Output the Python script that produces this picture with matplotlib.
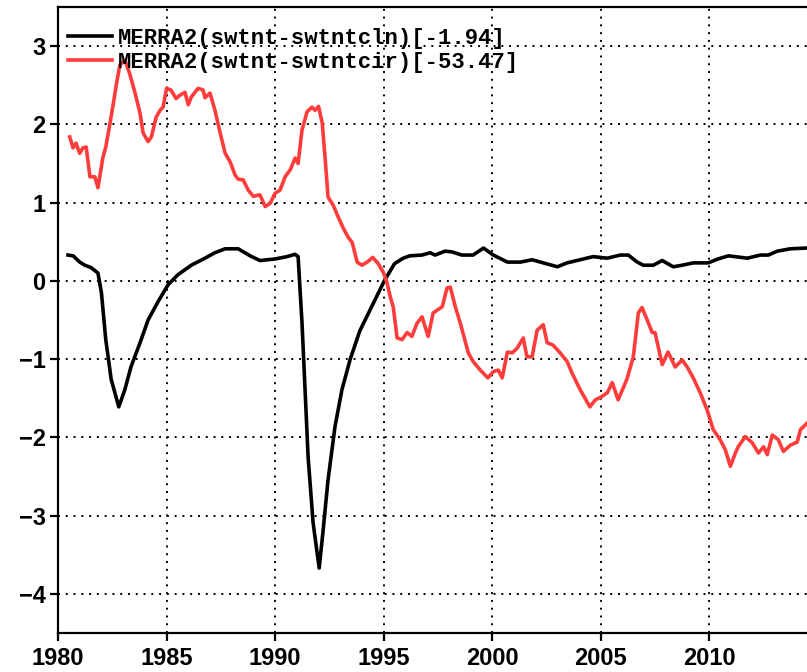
import matplotlib
matplotlib.use('Agg')
from matplotlib import pyplot as plt

# Series values (year, value)
black_years = [1980.46, 1980.7, 1981.0, 1981.24, 1981.52, 1981.84, 1982.0, 1982.2, 1982.45, 1982.8,
               1983.08, 1983.36, 1983.78, 1984.15, 1984.6, 1985.07, 1985.53, 1986.14, 1986.77, 1987.23,
               1987.7, 1988.3, 1988.85, 1989.3, 1990.0, 1990.55, 1990.92, 1991.06, 1991.24, 1991.38,
               1991.52, 1991.75, 1992.03, 1992.2, 1992.44, 1992.76, 1993.08, 1993.45, 1993.9, 1994.5,
               1995.03, 1995.5, 1995.9, 1996.2, 1996.77, 1997.14, 1997.37, 1997.83, 1998.15, 1998.6,
               1999.12, 1999.6, 2000.05, 2000.7, 2001.3, 2001.84, 2002.35, 2003.0, 2003.45, 2004.05,
               2004.65, 2005.3, 2005.9, 2006.27, 2006.68, 2006.96, 2007.42, 2007.83, 2008.34, 2008.75,
               2009.26, 2009.95, 2010.4, 2010.88, 2011.75, 2012.35, 2012.72, 2013.13, 2013.73, 2014.5]
black_vals = [0.33, 0.32, 0.24, 0.20, 0.17, 0.10, -0.15, -0.75, -1.26, -1.61,
              -1.39, -1.10, -0.79, -0.50, -0.27, -0.05, 0.08, 0.20, 0.29, 0.36,
              0.41, 0.41, 0.32, 0.26, 0.28, 0.31, 0.34, 0.31, -0.54, -1.39,
              -2.25, -3.09, -3.67, -3.22, -2.54, -1.86, -1.39, -1.01, -0.64, -0.30,
              0.0, 0.22, 0.29, 0.32, 0.33, 0.36, 0.33, 0.38, 0.37, 0.33,
              0.33, 0.42, 0.33, 0.24, 0.24, 0.27, 0.23, 0.18, 0.23, 0.27,
              0.31, 0.29, 0.33, 0.33, 0.24, 0.20, 0.20, 0.26, 0.18, 0.20,
              0.23, 0.23, 0.28, 0.32, 0.29, 0.33, 0.33, 0.38, 0.41, 0.42]

red_years = [1980.54, 1980.69, 1980.83, 1981.0, 1981.15, 1981.3, 1981.47, 1981.7, 1981.84, 1982.07,
             1982.2, 1982.4, 1982.55, 1982.7, 1982.85, 1983.08, 1983.3, 1983.55, 1983.78, 1983.92,
             1984.15, 1984.3, 1984.52, 1984.7, 1984.84, 1985.0, 1985.2, 1985.44, 1985.6, 1985.85,
             1986.0, 1986.14, 1986.45, 1986.68, 1986.77, 1987.0, 1987.23, 1987.47, 1987.7, 1987.93,
             1988.16, 1988.3, 1988.53, 1988.76, 1989.0, 1989.3, 1989.54, 1989.77, 1990.0, 1990.23,
             1990.46, 1990.7, 1990.92, 1991.06, 1991.24, 1991.47, 1991.7, 1991.84, 1992.0, 1992.17,
             1992.3, 1992.44, 1992.67, 1992.9, 1993.13, 1993.36, 1993.55, 1993.78, 1994.0, 1994.24,
             1994.5, 1994.75, 1995.0, 1995.16, 1995.3, 1995.44, 1995.62, 1995.85, 1996.08, 1996.3,
             1996.54, 1996.77, 1997.05, 1997.28, 1997.7, 1997.92, 1998.07, 1998.3, 1998.53, 1998.9,
             1999.12, 1999.45, 1999.8, 2000.05, 2000.28, 2000.46, 2000.7, 2000.92, 2001.15, 2001.43,
             2001.6, 2001.84, 2002.07, 2002.35, 2002.53, 2002.8, 2003.13, 2003.45, 2003.68, 2004.05,
             2004.5, 2004.75, 2004.98, 2005.3, 2005.53, 2005.8, 2006.2, 2006.5, 2006.73, 2006.9,
             2007.14, 2007.37, 2007.5, 2007.83, 2008.1, 2008.43, 2008.75, 2008.98, 2009.26, 2009.58,
             2009.9, 2010.18, 2010.5, 2010.74, 2010.97, 2011.2, 2011.33, 2011.66, 2011.98, 2012.26,
             2012.5, 2012.67, 2012.9, 2013.18, 2013.41, 2013.73, 2014.05, 2014.2, 2014.5]
red_vals = [1.84, 1.70, 1.76, 1.63, 1.70, 1.71, 1.33, 1.33, 1.19, 1.58,
            1.71, 2.02, 2.27, 2.53, 2.76, 2.82, 2.65, 2.40, 2.14, 1.89,
            1.78, 1.84, 2.09, 2.18, 2.22, 2.46, 2.44, 2.33, 2.37, 2.41,
            2.25, 2.35, 2.46, 2.44, 2.34, 2.40, 2.18, 1.89, 1.63, 1.52,
            1.35, 1.30, 1.29, 1.16, 1.08, 1.10, 0.95, 0.99, 1.12, 1.16,
            1.33, 1.42, 1.57, 1.50, 1.93, 2.16, 2.22, 2.18, 2.23, 2.02,
            1.58, 1.07, 0.97, 0.82, 0.68, 0.56, 0.49, 0.24, 0.20, 0.24,
            0.30, 0.22, 0.10, -0.03, -0.20, -0.33, -0.73, -0.75, -0.66, -0.71,
            -0.54, -0.46, -0.71, -0.41, -0.33, -0.09, -0.08, -0.33, -0.54, -0.92,
            -1.03, -1.14, -1.24, -1.16, -1.14, -1.24, -0.91, -0.92, -0.86, -0.73,
            -0.97, -0.97, -0.63, -0.56, -0.79, -0.82, -0.92, -1.03, -1.18, -1.39,
            -1.61, -1.52, -1.49, -1.43, -1.30, -1.52, -1.26, -0.97, -0.41, -0.34,
            -0.50, -0.66, -0.66, -1.07, -0.91, -1.10, -1.01, -1.10, -1.24, -1.43,
            -1.65, -1.90, -2.03, -2.16, -2.37, -2.20, -2.12, -1.99, -2.07, -2.20,
            -2.12, -2.22, -1.97, -2.03, -2.18, -2.10, -2.06, -1.90, -1.82]

labels = ['MERRA2(swtnt-swtntcln)[-1.94]', 'MERRA2(swtnt-swtntcir)[-53.47]']
x_ticks = [1980, 1985, 1990, 1995, 2000, 2005, 2010]
y_ticks = [-4, -3, -2, -1, 0, 1, 2, 3]

fig = plt.figure(figsize=(8.07, 6.72), dpi=100)
ax = fig.add_axes([58 / 807, 39 / 672, 1 - 58 / 807, 626 / 672])

ax.plot(black_years, black_vals, color='black', lw=2.6, label=labels[0], solid_joinstyle='round')
ax.plot(red_years, red_vals, color='#ff3c3c', lw=2.6, label=labels[1], solid_joinstyle='round')

ax.set_xlim(1980, 2014.5)
ax.set_ylim(-4.5, 3.5)
ax.set_xticks(x_ticks)
ax.set_yticks(y_ticks)
ax.set_yticklabels([('\u2212%d' % -v) if v < 0 else str(v) for v in y_ticks])

ax.grid(True, color='black', linestyle=(0, (1, 3)), linewidth=1.4)
ax.spines['right'].set_visible(False)
for s in ['left', 'bottom', 'top']:
    ax.spines[s].set_linewidth(1.6)
ax.tick_params(direction='out', length=6, width=1.6, pad=3)
ax.tick_params(axis='x', top=False, pad=4)
for lab in ax.get_xticklabels() + ax.get_yticklabels():
    lab.set_fontfamily('Liberation Sans')
    lab.set_fontweight('bold')
    lab.set_fontsize(17)

leg = ax.legend(loc='upper left', bbox_to_anchor=(0.0134, 0.967), frameon=False,
                borderaxespad=0, borderpad=0, handlelength=2.0, handletextpad=0.25,
                labelspacing=0.13, prop={'family': 'Liberation Mono', 'weight': 'bold', 'size': 16})

fig.savefig('out.png', dpi=100)
